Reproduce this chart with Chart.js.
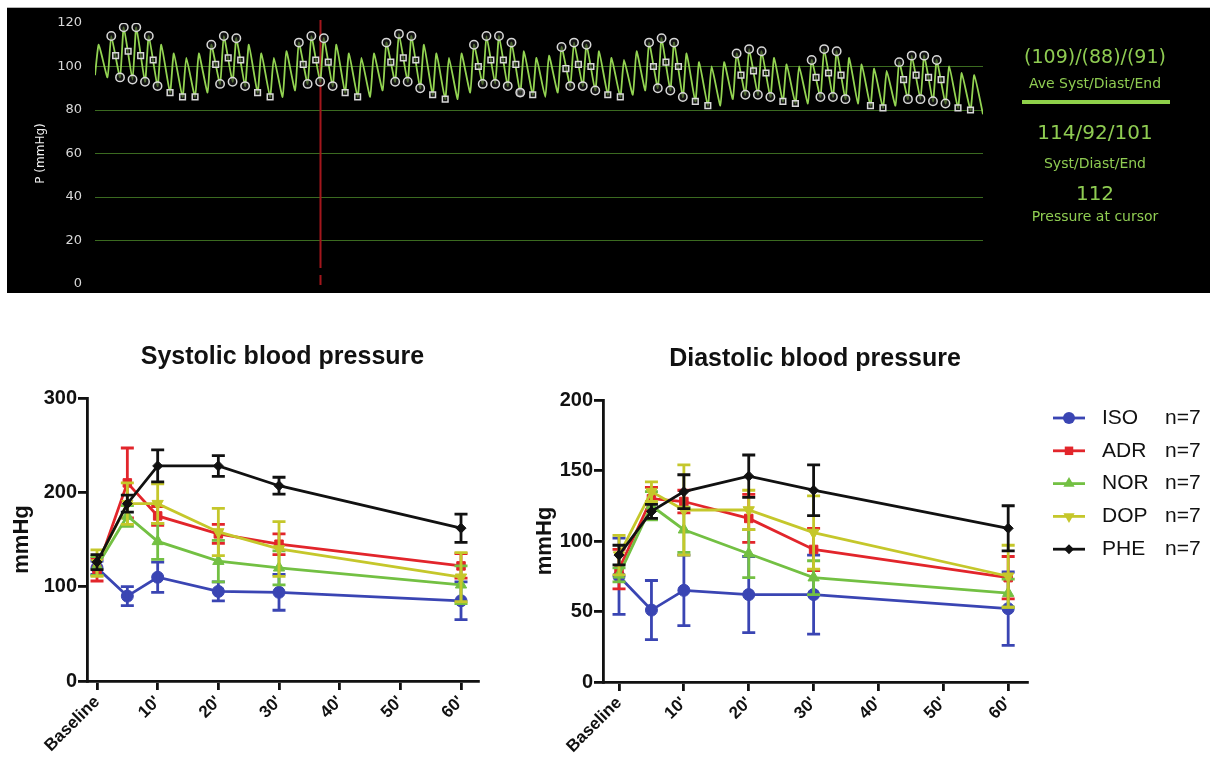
<!DOCTYPE html>
<html>
<head>
<meta charset="utf-8">
<script src="https://cdn.jsdelivr.net/npm/chart.js@4.4.0/dist/chart.umd.min.js"></script>
<style>
  body { margin: 0; background: #fff; width: 1210px; height: 767px; overflow: hidden; position: relative; }
  #topBox { position: absolute; left: 7px; top: 8px; width: 1203px; height: 285px; background: #000; }
  #topEdge { position: absolute; left: 7px; top: 7px; width: 1203px; height: 1px; background: #b5b5b5; }
  .rt { position: absolute; left: 995px; width: 200px; text-align: center; line-height: 1; color: #8fcc52; font-family: "DejaVu Sans", sans-serif; white-space: nowrap; }
  #rtBar { position: absolute; left: 1022px; top: 100px; width: 148px; height: 4px; background: #8fd14a; }
  canvas { position: absolute; }
</style>
</head>
<body>
<div id="topEdge"></div>
<div id="topBox"><canvas id="trace" width="1203" height="285"></canvas></div>
<div class="rt" style="top:47px;font-size:19px">(109)/(88)/(91)</div>
<div class="rt" style="top:76px;font-size:14px">Ave Syst/Diast/End</div>
<div id="rtBar"></div>
<div class="rt" style="top:122px;font-size:20px">114/92/101</div>
<div class="rt" style="top:156px;font-size:14px">Syst/Diast/End</div>
<div class="rt" style="top:183px;font-size:20px">112</div>
<div class="rt" style="top:209px;font-size:14px">Pressure at cursor</div>

<canvas id="sys" width="520" height="437" style="left:0;top:330px"></canvas>
<canvas id="dia" width="680" height="437" style="left:530px;top:330px"></canvas>

<script>
Chart.defaults.font.family = '"Liberation Sans", Arial, sans-serif';
Chart.defaults.color = '#111';

// ---- pressure trace, beat by beat (mmHg)
const beatPeaks = [110,114,118,118,114,110,106,104,106,110,114,113,110,106,104,107,111,114,113,110,
  106,104,106,111,115,114,110,106,104,106,110,114,114,111,107,104,105,109,111,110,
  107,104,103,107,111,113,111,106,102,100,102,106,108,107,104,101,100,103,108,107,
  104,101,99,98,102,105,105,103,100,97,96];
const beatTroughs = [96,95,95,94,93,91,88,86,86,88,92,93,91,88,86,86,89,92,93,91,
  88,86,86,89,93,93,90,87,85,85,88,92,92,91,88,87,86,88,91,91,
  89,87,86,87,89,90,89,86,84,82,82,85,87,87,86,84,83,83,86,86,
  85,83,82,81,82,85,85,84,83,81,80,78];
// beats the monitor flagged (syst circle / end square / diast circle)
const markedBeats = [1,2,3,4, 9,10,11, 16,17,18, 23,24,25, 30,31,32,33, 37,38,39,
  44,45,46, 51,52,53, 57,58,59, 64,65,66,67];
const markedEnds = [105,107,105,103, 101,104,103, 101,103,102, 102,104,103, 100,103,103,101, 99,101,100,
  100,102,100, 96,98,97, 95,97,96, 94,96,95,94];
const lowBeats = [6,7,8, 13,14, 20,21, 27,28, 34,35, 41,42, 48,49, 55,56, 62,63, 69,70];
const cursorBeat = 18;
const traceTicks = [0, 20, 40, 60, 80, 100, 120];

// ---- blood pressure after drug, mean and error (mmHg)
const timePoints = [0, 5, 10, 20, 30, 60];
const timeTicks = [0, 10, 20, 30, 40, 50, 60];
const timeTickLabels = ['Baseline', "10'", "20'", "30'", "40'", "50'", "60'"];
const drugs = ['ISO', 'ADR', 'NOR', 'DOP', 'PHE'];
const groupSizes = [7, 7, 7, 7, 7];

const sysISO = [120, 90, 110, 95, 94, 85];     const sysISOErr = [7, 10, 16, 10, 19, 20];
const sysADR = [118, 210, 175, 156, 145, 122]; const sysADRErr = [12, 37, 10, 10, 11, 13];
const sysNOR = [122, 175, 148, 127, 120, 102]; const sysNORErr = [10, 11, 19, 22, 18, 20];
const sysDOP = [125, 188, 188, 158, 140, 110]; const sysDOPErr = [14, 22, 21, 25, 29, 26];
const sysPHE = [126, 188, 228, 228, 207, 162]; const sysPHEErr = [8, 9, 17, 11, 9, 15];

const diaISO = [75, 51, 65, 62, 62, 52];       const diaISOErr = [27, 21, 25, 27, 28, 26];
const diaADR = [80, 130, 128, 116, 94, 74];    const diaADRErr = [14, 8, 8, 17, 15, 15];
const diaNOR = [76, 125, 108, 91, 74, 63];     const diaNORErr = [5, 10, 16, 17, 12, 10];
const diaDOP = [90, 135, 122, 122, 106, 75];   const diaDOPErr = [14, 7, 32, 14, 26, 22];
const diaPHE = [90, 121, 135, 146, 136, 109];  const diaPHEErr = [7, 5, 12, 15, 18, 16];

const drugColors = ['#3a45b3', '#e2252b', '#73c043', '#c5c72b', '#111111'];
const drugMarks = ['circle', 'rect', 'triangle', 'triangle', 'rectRot'];
const drugRot = [0, 0, 0, 180, 0];
const drugSizes = [6, 6, 6.5, 6.5, 5];

// ---------- top trace ----------
const wave = [];
beatPeaks.forEach((p, i) => {
  wave.push({x: i, y: beatTroughs[i]});
  wave.push({x: i + 0.3, y: p});
});
wave.push({x: beatPeaks.length, y: beatTroughs[beatPeaks.length]});

const peakDots = markedBeats.map(b => ({x: b + 0.3, y: beatPeaks[b]}));
const endSquares = markedBeats.map((b, k) => ({x: b + 0.65, y: markedEnds[k]}));
const troughDots = markedBeats.map(b => ({x: b + 1, y: beatTroughs[b + 1]}));
const lowSquares = lowBeats.map(b => ({x: b, y: beatTroughs[b]}));

function marker(data, style, r) {
  return {data: data, showLine: false, pointStyle: style, pointRadius: r,
    pointBorderColor: '#d8d8d8', pointBackgroundColor: 'rgba(30,30,30,0.6)', pointBorderWidth: 1.5};
}

const cursorLine = {
  id: 'cursorLine',
  beforeDatasetsDraw(chart, args, opts) {
    const {ctx, chartArea} = chart;
    const px = Math.round(chart.scales.x.getPixelForValue(opts.beat)) + 0.5;
    ctx.save();
    ctx.strokeStyle = '#a3161c';
    ctx.lineWidth = 2;
    ctx.beginPath();
    ctx.moveTo(px, chartArea.top - 3); ctx.lineTo(px, chartArea.bottom - 16);
    ctx.moveTo(px, chartArea.bottom - 9); ctx.lineTo(px, chartArea.bottom + 1);
    ctx.stroke();
    ctx.restore();
  }
};

new Chart(document.getElementById('trace'), {
  type: 'line',
  data: {
    datasets: [
      marker(peakDots, 'circle', 4.2),
      marker(endSquares, 'rect', 4),
      marker(troughDots, 'circle', 4.2),
      marker(lowSquares, 'rect', 4),
      {data: wave, borderColor: '#93d452', borderWidth: 1.8, pointRadius: 0, tension: 0.15}
    ]
  },
  options: {
    responsive: false, animation: false, events: [],
    layout: {padding: {top: 15, bottom: 9, right: 227, left: 0}},
    plugins: {legend: {display: false}, tooltip: {enabled: false}, cursorLine: {beat: cursorBeat}},
    scales: {
      x: {type: 'linear', min: 0, max: beatPeaks.length, display: false},
      y: {
        min: 0, max: 120,
        afterBuildTicks: s => { s.ticks = traceTicks.map(v => ({value: v})); },
        afterFit: s => { s.width = 88; },
        grid: {color: c => (c.tick.value === 0 || c.tick.value === 120) ? 'rgba(0,0,0,0)' : '#3b6a20',
          drawTicks: true, tickLength: 13, tickColor: 'rgba(0,0,0,0)', lineWidth: 1},
        border: {display: false},
        ticks: {color: '#d8d8d8', font: {family: '"DejaVu Sans"', size: 13}, padding: 0},
        title: {display: true, text: 'P (mmHg)', color: '#eeeeee', font: {family: '"DejaVu Sans"', size: 12}, padding: {top: 27, bottom: 0}}
      }
    }
  },
  plugins: [cursorLine]
});

// ---------- bottom charts ----------
const errorBars = {
  id: 'errorBars',
  afterDatasetDraw(chart, args) {
    const ds = chart.data.datasets[args.index];
    if (!ds.errs) return;
    const {ctx, scales: {x, y}} = chart;
    ctx.save();
    ctx.strokeStyle = ds.borderColor;
    ctx.lineWidth = 2.8;
    ds.data.forEach((pt, j) => {
      const px = x.getPixelForValue(pt.x);
      const top = y.getPixelForValue(pt.y + ds.errs[j]);
      const bot = y.getPixelForValue(pt.y - ds.errs[j]);
      ctx.beginPath();
      ctx.moveTo(px, top); ctx.lineTo(px, bot);
      ctx.moveTo(px - 6.5, top); ctx.lineTo(px + 6.5, top);
      ctx.moveTo(px - 6.5, bot); ctx.lineTo(px + 6.5, bot);
      ctx.stroke();
    });
    ctx.restore();
  }
};

const sideLegend = {
  id: 'sideLegend',
  afterDraw(chart, args, opts) {
    if (!opts.show) return;
    const ctx = chart.ctx;
    chart.data.datasets.forEach((ds, i) => {
      const y = opts.y0 + i * opts.gap;
      ctx.save();
      ctx.strokeStyle = ds.borderColor;
      ctx.lineWidth = 2.8;
      ctx.beginPath(); ctx.moveTo(opts.x0, y); ctx.lineTo(opts.x0 + 32, y); ctx.stroke();
      ctx.fillStyle = ds.borderColor;
      Chart.helpers.drawPoint(ctx, {pointStyle: ds.pointStyle, rotation: ds.pointRotation, radius: ds.pointRadius, borderWidth: 0}, opts.x0 + 16, y);
      ctx.fillStyle = '#111';
      ctx.font = '21px "Liberation Sans", Arial, sans-serif';
      ctx.textBaseline = 'middle';
      ctx.textAlign = 'left';
      ctx.fillText(ds.label, opts.x0 + 49, y);
      ctx.fillText('n=' + groupSizes[i], opts.x0 + 112, y);
      ctx.restore();
    });
  }
};

const axisLook = {
  grid: {display: true, drawOnChartArea: false, drawTicks: true, tickLength: 9, color: '#111', lineWidth: 2.8},
  border: {display: true, color: '#111', width: 2.8}
};

function bpChart(id, title, means, errs, yMax, yStep, fit) {
  const yTicks = [];
  for (let v = 0; v <= yMax; v += yStep) yTicks.push(v);
  return new Chart(document.getElementById(id), {
    type: 'line',
    data: {
      datasets: means.map((m, i) => ({
        label: drugs[i],
        data: timePoints.map((t, j) => ({x: t, y: m[j]})),
        errs: errs[i],
        borderColor: drugColors[i], backgroundColor: drugColors[i],
        borderWidth: 2.8, tension: 0,
        pointStyle: drugMarks[i], pointRotation: drugRot[i], pointRadius: drugSizes[i],
        pointBorderWidth: 1, order: 4 - i, clip: false
      }))
    },
    options: {
      responsive: false, animation: false, events: [],
      layout: {padding: {left: 0, right: fit.right, top: 0, bottom: 0}},
      plugins: {
        legend: {display: false}, tooltip: {enabled: false},
        title: {display: true, text: title, fullSize: false, color: '#111',
          font: {size: 25, weight: 'bold'}, padding: {top: fit.titleTop, bottom: fit.titleBottom}},
        sideLegend: fit.legend || {show: false}
      },
      scales: {
        x: Object.assign({
          type: 'linear', min: fit.xMin, max: fit.xMax,
          afterBuildTicks: s => { s.ticks = timeTicks.map(v => ({value: v})); },
          afterFit: s => { s.height = fit.xH; },
          ticks: {autoSkip: false, minRotation: 45, maxRotation: 45, padding: 2, color: '#111',
            font: {size: 17, weight: 'bold'}, callback: v => timeTickLabels[timeTicks.indexOf(v)]}
        }, axisLook),
        y: Object.assign({
          min: 0, max: yMax,
          afterBuildTicks: s => { s.ticks = yTicks.map(v => ({value: v})); },
          afterFit: s => { s.width = fit.yW; },
          ticks: {padding: 1, color: '#111', font: {size: 20, weight: 'bold'}},
          title: {display: true, text: 'mmHg', color: '#111', font: {size: 22, weight: 'bold'}, padding: {top: fit.yTitlePad, bottom: 0}}
        }, axisLook)
      }
    },
    plugins: [errorBars, sideLegend]
  });
}

bpChart('sys', 'Systolic blood pressure',
  [sysISO, sysADR, sysNOR, sysDOP, sysPHE],
  [sysISOErr, sysADRErr, sysNORErr, sysDOPErr, sysPHEErr],
  300, 100,
  {xMin: -1.65, xMax: 62.8, xH: 86, yW: 87, right: 42, titleTop: 12, titleBottom: 26, yTitlePad: 9});

bpChart('dia', 'Diastolic blood pressure',
  [diaISO, diaADR, diaNOR, diaDOP, diaPHE],
  [diaISOErr, diaADRErr, diaNORErr, diaDOPErr, diaPHEErr],
  200, 50,
  {xMin: -2.47, xMax: 62.9, xH: 85, yW: 73, right: 183, titleTop: 14, titleBottom: 26, yTitlePad: 2,
   legend: {show: true, x0: 523, y0: 88, gap: 32.8}});
</script>
</body>
</html>
